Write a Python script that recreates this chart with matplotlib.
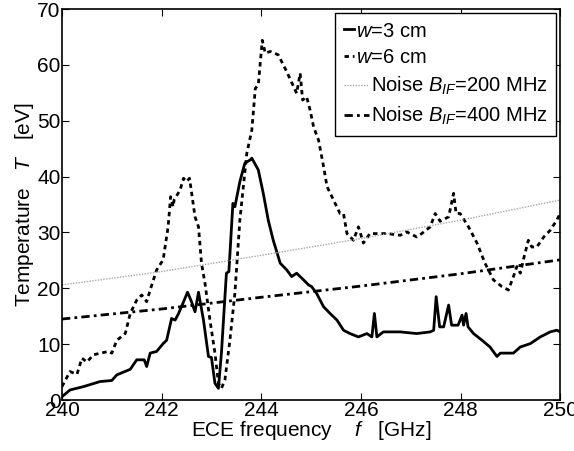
import matplotlib
matplotlib.use("Agg")
import matplotlib.pyplot as plt
from matplotlib.legend_handler import HandlerLine2D
import numpy as np

plt.rcParams['font.family'] = ['Liberation Sans', 'DejaVu Sans']
plt.rcParams['mathtext.fontset'] = 'custom'
plt.rcParams['mathtext.rm'] = 'Liberation Sans'
plt.rcParams['mathtext.it'] = 'Liberation Sans:italic'

# w = 3 cm
f3 = [240.0, 240.16, 240.43, 240.76, 241.0, 241.1, 241.37, 241.5, 241.65, 241.7, 241.77, 241.9,
      242.03, 242.1, 242.2, 242.27, 242.34, 242.44, 242.52, 242.6, 242.67, 242.74, 242.84, 242.94,
      243.0, 243.07, 243.14, 243.2, 243.3, 243.35, 243.43, 243.47, 243.57, 243.67, 243.78, 243.81,
      243.94, 244.04, 244.14, 244.24, 244.38, 244.51, 244.61, 244.71, 244.85, 244.95, 245.01, 245.11,
      245.25, 245.38, 245.52, 245.65, 245.78, 245.95, 246.12, 246.22, 246.27, 246.32, 246.45, 246.79,
      247.12, 247.39, 247.46, 247.51, 247.58, 247.66, 247.76, 247.82, 247.95, 248.03, 248.06, 248.11,
      248.15, 248.26, 248.43, 248.59, 248.73, 248.8, 248.9, 249.06, 249.2, 249.4, 249.6, 249.8,
      249.93, 250.0]
T3 = [0.6, 1.8, 2.4, 3.3, 3.5, 4.5, 5.5, 7.2, 7.2, 6.0, 8.4, 8.7,
      10.1, 10.7, 14.6, 14.3, 15.5, 17.6, 19.3, 17.6, 15.8, 19.3, 14.3, 7.8,
      7.6, 3.0, 2.1, 8.4, 22.7, 23.0, 35.2, 34.6, 39.1, 42.4, 43.0, 43.3,
      41.2, 37.0, 32.2, 28.6, 24.5, 23.3, 22.1, 22.7, 21.5, 20.6, 20.3, 19.1,
      16.7, 15.5, 14.3, 12.5, 11.9, 11.3, 11.9, 11.3, 15.5, 11.3, 12.2, 12.2,
      11.9, 12.2, 12.5, 18.5, 13.1, 13.1, 17.0, 13.4, 13.4, 15.2, 13.4, 15.5,
      13.1, 11.9, 10.7, 9.5, 7.8, 8.4, 8.4, 8.4, 9.5, 10.1, 11.3, 12.2,
      12.5, 12.2]

# w = 6 cm
f6 = [240.0, 240.16, 240.3, 240.4, 240.5, 240.63, 240.83, 240.93, 241.0, 241.1, 241.27, 241.37,
      241.5, 241.6, 241.7, 241.77, 241.9, 242.03, 242.13, 242.18, 242.23, 242.25, 242.37, 242.44,
      242.5, 242.56, 242.67, 242.74, 242.8, 242.87, 242.97, 243.07, 243.14, 243.2, 243.27, 243.37,
      243.47, 243.57, 243.71, 243.81, 243.88, 243.94, 244.02, 244.08, 244.18, 244.34, 244.51, 244.71,
      244.78, 244.83, 244.91, 244.98, 245.05, 245.15, 245.25, 245.32, 245.45, 245.58, 245.65, 245.72,
      245.85, 245.95, 246.05, 246.18, 246.39, 246.52, 246.79, 246.92, 247.12, 247.22, 247.39, 247.49,
      247.59, 247.76, 247.86, 247.91, 247.99, 248.16, 248.33, 248.49, 248.66, 248.83, 248.96, 249.06,
      249.13, 249.2, 249.26, 249.36, 249.43, 249.53, 249.67, 249.8, 249.93, 250.0]
T6 = [2.4, 5.1, 4.6, 7.5, 6.8, 8.1, 8.5, 8.7, 8.4, 10.7, 11.9, 15.5,
      17.9, 18.8, 17.6, 19.7, 23.3, 25.1, 31.0, 36.4, 34.6, 35.8, 37.6, 39.7,
      39.1, 39.7, 32.8, 31.0, 24.5, 20.9, 14.3, 8.4, 3.0, 2.1, 3.6, 10.7,
      19.1, 32.2, 44.2, 48.3, 55.8, 56.4, 64.4, 62.1, 62.4, 61.8, 58.8, 54.9,
      58.5, 53.7, 54.3, 51.9, 48.9, 46.5, 41.8, 38.2, 35.8, 33.4, 33.4, 29.8,
      28.6, 31.0, 28.1, 29.8, 29.8, 29.8, 29.5, 30.1, 29.2, 29.8, 31.0, 33.4,
      32.0, 32.8, 37.0, 33.4, 33.4, 31.0, 28.1, 24.5, 21.5, 20.3, 19.7, 22.1,
      23.9, 22.7, 25.1, 28.6, 27.4, 27.4, 29.2, 30.4, 32.2, 33.4]

# noise levels
fn = [240, 242, 244, 246, 248, 250]
Tn200 = [20.6, 23.0, 25.9, 28.9, 32.2, 35.8]
Tn400 = [14.5, 16.3, 18.4, 20.4, 22.6, 25.1]

xticks = [240, 242, 244, 246, 248, 250]
yticks = [0, 10, 20, 30, 40, 50, 60, 70]


class ShortHandler(HandlerLine2D):
    """Legend line drawn over only the left part of the handle box."""
    def create_artists(self, legend, orig_handle, xdescent, ydescent, width, height,
                       fontsize, trans):
        return super().create_artists(legend, orig_handle, xdescent, ydescent,
                                      width * 0.4, height, fontsize, trans)


fig = plt.figure(figsize=(5.74, 4.51), dpi=100)
ax = fig.add_axes([0.108, 0.113, 0.868, 0.867])

l1, = ax.plot(f3, T3, color='black', lw=2.0, ls='-', label='$w$=3 cm')
l2, = ax.plot(f6, T6, color='black', lw=2.0, ls=(0, (1.6, 1.4)), label='$w$=6 cm')
l3, = ax.plot(fn, Tn200, color='#a8a8a8', lw=1.0, ls=(0, (1, 1)), label='Noise $B_{IF}$=200 MHz')
l4, = ax.plot(fn, Tn400, color='black', lw=2.0, ls=(0, (3, 1.5, 1, 1.5)), label='Noise $B_{IF}$=400 MHz')

ax.set_xlim(240, 250)
ax.set_ylim(0, 70)
ax.set_xticks(xticks)
ax.set_yticks(yticks)
ax.tick_params(direction='in', top=True, right=True, length=5, width=0.8,
               labelsize=15, pad=1)
for s in ax.spines.values():
    s.set_linewidth(1.2)

ax.set_xlabel('ECE frequency    $f$   [GHz]', fontsize=15, labelpad=-1)
ax.set_ylabel('Temperature   $T$   [eV]', fontsize=15, labelpad=1)

leg = ax.legend(loc='upper right', fontsize=14.5, handlelength=1.25, handletextpad=0.1,
                borderpad=0.42, labelspacing=0.38, borderaxespad=0.2, fancybox=False,
                framealpha=1, edgecolor='black',
                handler_map={l1: ShortHandler(), l2: ShortHandler()})
leg.get_frame().set_linewidth(1.0)
# w-labels start right after their short handles
for t in leg.get_texts()[:2]:
    t.set_x(-15)

fig.savefig('out.png', dpi=100)
